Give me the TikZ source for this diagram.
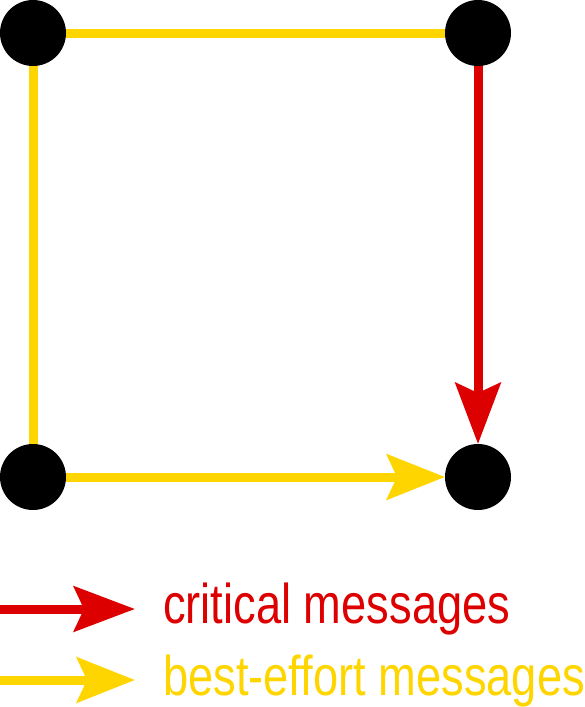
\documentclass[tikz,border=0pt]{standalone}
\usepackage{fontspec}
\setmainfont{Liberation Sans}
\usetikzlibrary{arrows.meta}
\definecolor{critred}{HTML}{DD0000}
\definecolor{bestyel}{HTML}{FFD500}
\pgfdeclarelayer{background}
\pgfsetlayers{background,main}
\tikzset{
  dot/.style={circle, fill=black, minimum size=66pt, inner sep=0pt, outer sep=0pt},
  crit/.style={draw=critred, line width=9pt, -{Stealth[length=61pt, width=45pt, inset=10pt, fill=critred]}},
  best/.style={draw=bestyel, line width=9pt},
  bestarrow/.style={best, -{Stealth[length=58pt, width=45pt, inset=10pt, fill=bestyel]}},
  legtext/.style={anchor=base west, inner sep=0pt, font=\fontsize{56pt}{60pt}\selectfont}
}
\begin{document}
\begin{tikzpicture}[x=1pt, y=-1pt]
\useasboundingbox (0,0) rectangle (585,707);
\node[dot] (tl) at (33,33) {};
\node[dot] (tr) at (478,33) {};
\node[dot] (bl) at (33,477) {};
\node[dot] (br) at (478,477) {};
\begin{pgfonlayer}{background}
\draw[best] (tr.center) -- (tl.center) -- (bl.center);
\draw[bestarrow] (bl.center) -- (br);
\draw[crit] (tr.center) -- (br);
\end{pgfonlayer}
\coordinate (r0) at (0,609);
\coordinate (r1) at (135,609);
\coordinate (y0) at (0,680);
\coordinate (y1) at (135,680);
\draw[crit] (r0) -- (r1);
\draw[bestarrow] (y0) -- (y1);
\node[legtext, text=critred] (lc) at (163,623) {\scalebox{0.808}[1]{critical messages}};
\node[legtext, text=bestyel] (lb) at (163,695) {\scalebox{0.808}[1]{best-effort messages}};
\end{tikzpicture}
\end{document}
